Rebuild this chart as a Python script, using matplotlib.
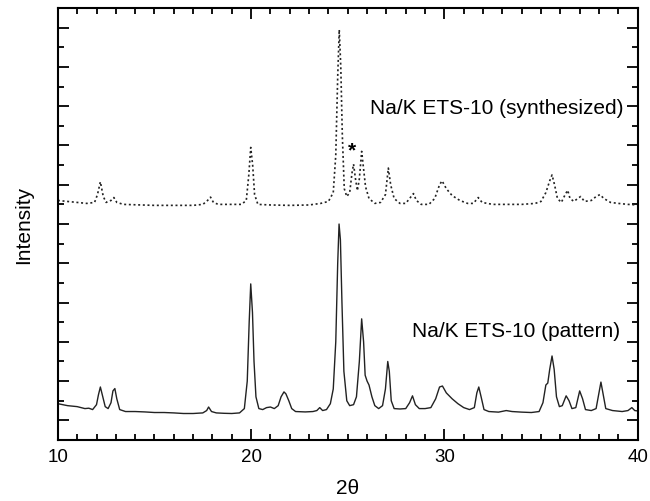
import matplotlib.pyplot as plt
from matplotlib.ticker import MultipleLocator, NullFormatter

plt.rcParams['font.family'] = ['Liberation Sans', 'DejaVu Sans']

# Na/K ETS-10 reference pattern (solid), 2theta vs intensity (arb. units)
pattern_2theta = [
    10.0, 10.5, 11.0, 11.4, 11.6, 11.8, 12.0, 12.1, 12.2, 12.3, 12.45, 12.6,
    12.75, 12.85, 12.95, 13.05, 13.2, 13.5, 14.0, 14.5, 15.0, 15.5, 16.0, 16.5,
    17.0, 17.5, 17.7, 17.8, 17.95, 18.2, 18.6, 19.0, 19.4, 19.65, 19.8, 19.9,
    19.98, 20.07, 20.15, 20.25, 20.4, 20.6, 20.8, 21.0, 21.2, 21.4, 21.55, 21.7,
    21.8, 21.95, 22.1, 22.3, 22.8, 23.2, 23.4, 23.55, 23.7, 23.9, 24.1, 24.25,
    24.38, 24.48, 24.55, 24.62, 24.7, 24.8, 24.95, 25.1, 25.3, 25.45, 25.6, 25.72,
    25.82, 25.9, 26.0, 26.1, 26.25, 26.4, 26.6, 26.8, 26.95, 27.07, 27.15, 27.25,
    27.4, 27.7, 28.0, 28.2, 28.35, 28.5, 28.7, 29.0, 29.3, 29.55, 29.75, 29.9,
    30.1, 30.4, 30.7, 31.0, 31.3, 31.55, 31.68, 31.78, 31.9, 32.05, 32.3, 32.8,
    33.2, 33.5, 34.0, 34.5, 34.9, 35.1, 35.25, 35.35, 35.45, 35.57, 35.68, 35.8,
    35.95, 36.1, 36.3, 36.45, 36.6, 36.8, 37.0, 37.15, 37.3, 37.6, 37.85, 38.0,
    38.1, 38.2, 38.35, 38.7, 39.2, 39.5, 39.7, 39.85, 40.0,
]
pattern_int = [
    1.85, 1.75, 1.7, 1.6, 1.62, 1.55, 1.8, 2.3, 2.7, 2.3, 1.7, 1.6,
    1.9, 2.5, 2.62, 2.1, 1.55, 1.45, 1.45, 1.43, 1.4, 1.4, 1.38, 1.35,
    1.35, 1.38, 1.5, 1.68, 1.45, 1.38, 1.36, 1.35, 1.38, 1.6, 3.0, 6.0,
    7.95, 6.5, 4.0, 2.2, 1.6, 1.55, 1.65, 1.68, 1.6, 1.75, 2.2, 2.45,
    2.35, 2.0, 1.6, 1.45, 1.43, 1.45, 1.5, 1.65, 1.5, 1.55, 1.85, 2.6,
    5.0, 9.0, 11.0, 10.2, 7.0, 3.5, 2.0, 1.75, 1.8, 2.2, 4.0, 6.17,
    5.0, 3.3, 3.0, 2.8, 2.2, 1.75, 1.6, 1.75, 2.6, 4.0, 3.5, 2.0,
    1.6, 1.58, 1.6, 1.9, 2.25, 1.8, 1.6, 1.6, 1.65, 2.1, 2.7, 2.75,
    2.4, 2.1, 1.85, 1.65, 1.55, 1.65, 2.4, 2.7, 2.2, 1.55, 1.45, 1.42,
    1.5, 1.45, 1.42, 1.4, 1.45, 1.9, 2.8, 2.9, 3.6, 4.28, 3.6, 2.2,
    1.7, 1.75, 2.25, 2.0, 1.6, 1.65, 2.5, 2.1, 1.55, 1.5, 1.6, 2.4,
    2.95, 2.4, 1.6, 1.5, 1.45, 1.5, 1.65, 1.5, 1.48,
]

# Na/K ETS-10 synthesized (dotted, offset upwards)
synth_2theta = [
    10.0, 10.5, 11.0, 11.5, 11.9, 12.05, 12.2, 12.35, 12.5, 12.75, 12.9, 13.05,
    13.4, 14.0, 15.0, 16.0, 17.0, 17.5, 17.7, 17.9, 18.05, 18.3, 19.0, 19.5,
    19.75, 19.88, 19.98, 20.08, 20.18, 20.35, 21.0, 22.0, 23.0, 23.6, 24.0, 24.25,
    24.38, 24.48, 24.56, 24.64, 24.72, 24.82, 24.95, 25.1, 25.22, 25.3, 25.4, 25.5,
    25.6, 25.72, 25.82, 25.92, 26.1, 26.4, 26.7, 26.95, 27.1, 27.22, 27.4, 27.7,
    28.0, 28.2, 28.4, 28.55, 28.8, 29.2, 29.5, 29.75, 29.88, 30.1, 30.4, 30.8,
    31.2, 31.5, 31.75, 31.95, 32.5, 33.0, 34.0, 34.7, 35.0, 35.25, 35.45, 35.57,
    35.7, 35.85, 36.05, 36.25, 36.38, 36.5, 36.7, 36.9, 37.05, 37.25, 37.6, 37.85,
    38.05, 38.25, 38.6, 39.0, 39.5, 40.0,
]
synth_int = [
    12.2, 12.15, 12.1, 12.05, 12.1, 12.5, 13.15, 12.4, 12.1, 12.2, 12.35, 12.1,
    12.0, 11.98, 11.95, 11.95, 11.95, 12.0, 12.15, 12.37, 12.1, 12.0, 12.0, 12.0,
    12.2, 13.5, 14.9, 14.0, 12.5, 12.0, 11.97, 11.95, 11.97, 12.05, 12.15, 12.6,
    14.5, 18.5, 20.9, 19.0, 15.5, 12.8, 12.4, 12.6, 13.6, 14.05, 13.3, 12.7,
    13.3, 14.7, 13.8, 12.9, 12.3, 12.05, 12.1, 12.5, 13.85, 13.0, 12.3, 12.05,
    12.05, 12.3, 12.55, 12.2, 12.0, 12.0, 12.3, 13.0, 13.2, 12.8, 12.45, 12.2,
    12.05, 12.05, 12.35, 12.1, 12.0, 12.0, 12.0, 12.05, 12.15, 12.6, 13.2, 13.5,
    13.0, 12.3, 12.1, 12.5, 12.72, 12.3, 12.15, 12.3, 12.4, 12.15, 12.2, 12.4,
    12.5, 12.3, 12.1, 12.05, 12.0, 11.97,
]

labels = ['Na/K ETS-10 (synthesized)', 'Na/K ETS-10 (pattern)']

fig = plt.figure(figsize=(6.5, 5.02), dpi=100)
ax = fig.add_axes([0.089, 0.1215, 0.892, 0.8605])

ax.plot(synth_2theta, synth_int, color='#222222', lw=1.2, linestyle=(0, (1.2, 1.6)))
ax.plot(pattern_2theta, pattern_int, color='#222222', lw=1.0)

ax.text(39.25, 16.95, labels[0], ha='right', va='center', fontsize=15)
ax.text(39.08, 5.56, labels[1], ha='right', va='center', fontsize=15)
ax.text(25.22, 14.75, '*', ha='center', va='center', fontsize=15, fontweight='bold')

ax.set_xlim(10, 40)
ax.set_ylim(0, 22)
ax.xaxis.set_major_locator(MultipleLocator(10))
ax.xaxis.set_minor_locator(MultipleLocator(1))
ax.set_yticks(range(1, 22, 2))
ax.yaxis.set_minor_locator(MultipleLocator(1))
ax.yaxis.set_major_formatter(NullFormatter())

ax.tick_params(which='both', direction='in', top=True, right=True, width=1.3, labelsize=13.5, pad=6)
ax.tick_params(which='major', length=8)
ax.tick_params(which='minor', length=4)
for s in ax.spines.values():
    s.set_linewidth(1.5)

ax.set_xlabel('2θ', fontsize=15, labelpad=9)
ax.set_ylabel('Intensity', fontsize=15, labelpad=12)

fig.savefig('out.png', dpi=100)
